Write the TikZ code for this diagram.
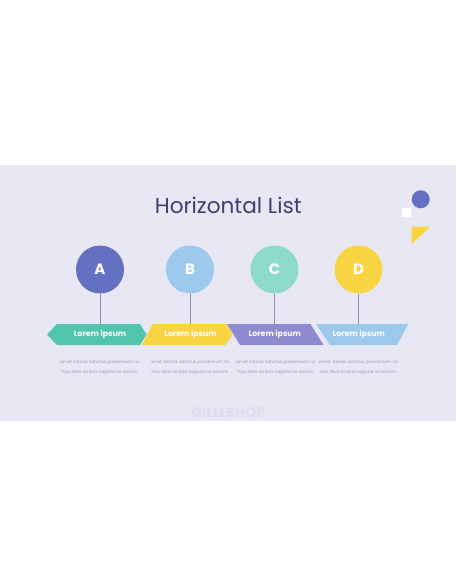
\documentclass[tikz,border=0pt]{standalone}
\usepackage{fontspec}
\setmainfont{Poppins}
\usetikzlibrary{positioning}
\definecolor{band}{HTML}{E8E8F4}
\definecolor{indigo}{HTML}{6470C0}
\definecolor{skyblue}{HTML}{9EC9EE}
\definecolor{mint}{HTML}{8EDBCB}
\definecolor{sun}{HTML}{F9D443}
\definecolor{teal}{HTML}{52C5AD}
\definecolor{lilac}{HTML}{8E8BD0}
\definecolor{navy}{HTML}{3D4070}
\definecolor{stem}{HTML}{8E8EA6}
\definecolor{body}{HTML}{9A9AB2}
\definecolor{mark}{HTML}{DCDCEA}
\tikzset{bubble/.style = {circle, inner sep = 0, minimum size = 48, text = white, font = \fontsize{15}{15}\selectfont\bfseries},
  tag/.style = {text = white, inner sep = 0, font = \fontsize{7.8}{7.8}\selectfont\bfseries},
  blurb/.style = {text = body, inner sep = 0, align = center, font = \fontsize{4.3}{10}\selectfont}}

\begin{document}
\begin{tikzpicture}[x=1pt, y=-1pt]
      \useasboundingbox [fill=white] (0,0) rectangle (456,586);
      \fill [band] (0,165) rectangle (456,421);

      \node [text=navy, inner sep=0, font=\fontsize{21.6}{21.6}\selectfont] at (228.3,205) (title) {Horizontal List};

      % corner ornaments
      \fill [indigo] (420.7,199.3) circle (9);
      \fill [white] (402,208) rectangle (411,217);
      \fill [sun] (411.7,226.7) -- (430,226.7) -- (411.7,244) -- cycle;

      \node [bubble, fill=indigo] at (100,269.5) (cA) {A};
      \node [bubble, fill=skyblue] at (190,269.5) (cB) {B};
      \node [bubble, fill=mint] at (274.5,269.5) (cC) {C};
      \node [bubble, fill=sun] at (358.5,269.5) (cD) {D};

      \coordinate (tA) at (100,324);
      \coordinate (tB) at (190,324);
      \coordinate (tC) at (274.5,324);
      \coordinate (tD) at (358.5,324);

      \draw [stem, line width=0.6] (cA.south) -- (tA);
      \draw [stem, line width=0.6] (cB.south) -- (tB);
      \draw [stem, line width=0.6] (cC.south) -- (tC);
      \draw [stem, line width=0.6] (cD.south) -- (tD);

      % ribbon
      \fill [teal] (47,334.5) -- (57,324) -- (140,324) -- (146.5,334.5) -- (140,345) -- (57,345) -- cycle;
      \fill [lilac] (227,324) -- (310.5,324) -- (323.5,345) -- (240,345) -- cycle;
      \fill [sun] (152.7,324) -- (226.7,324) -- (232.5,334.5) -- (225.5,345) -- (141.7,345) -- cycle;
      \fill [skyblue] (316,324) -- (408.3,324) -- (397,345) -- (330,345) -- cycle;

      \node [tag] at (100,334.5) (lA) {Lorem ipsum};
      \node [tag] at (190.5,334.5) (lB) {Lorem ipsum};
      \node [tag] at (274.8,334.5) (lC) {Lorem ipsum};
      \node [tag] at (358.8,334.5) (lD) {Lorem ipsum};

      \node [blurb] at (100,367) (bA) {amet, tantas sanctus posidonium no\\has, libris scripta regione no assum.};
      \node [blurb] at (190,367) (bB) {amet, tantas sanctus posidonium no\\has, libris scripta regione no assum.};
      \node [blurb] at (276,367) (bC) {amet, tantas sanctus posidonium no\\has, libris scripta regione no assum.};
      \node [blurb] at (358.5,367) (bD) {amet, tantas sanctus posidonium no\\has, libris scripta regione no assum.};

      \node [text=mark, inner sep=0, font=\fontsize{14}{14}\selectfont\bfseries] at (228.3,412.7) (brand) {GILLLSHOP};
    \end{tikzpicture}
\end{document}
